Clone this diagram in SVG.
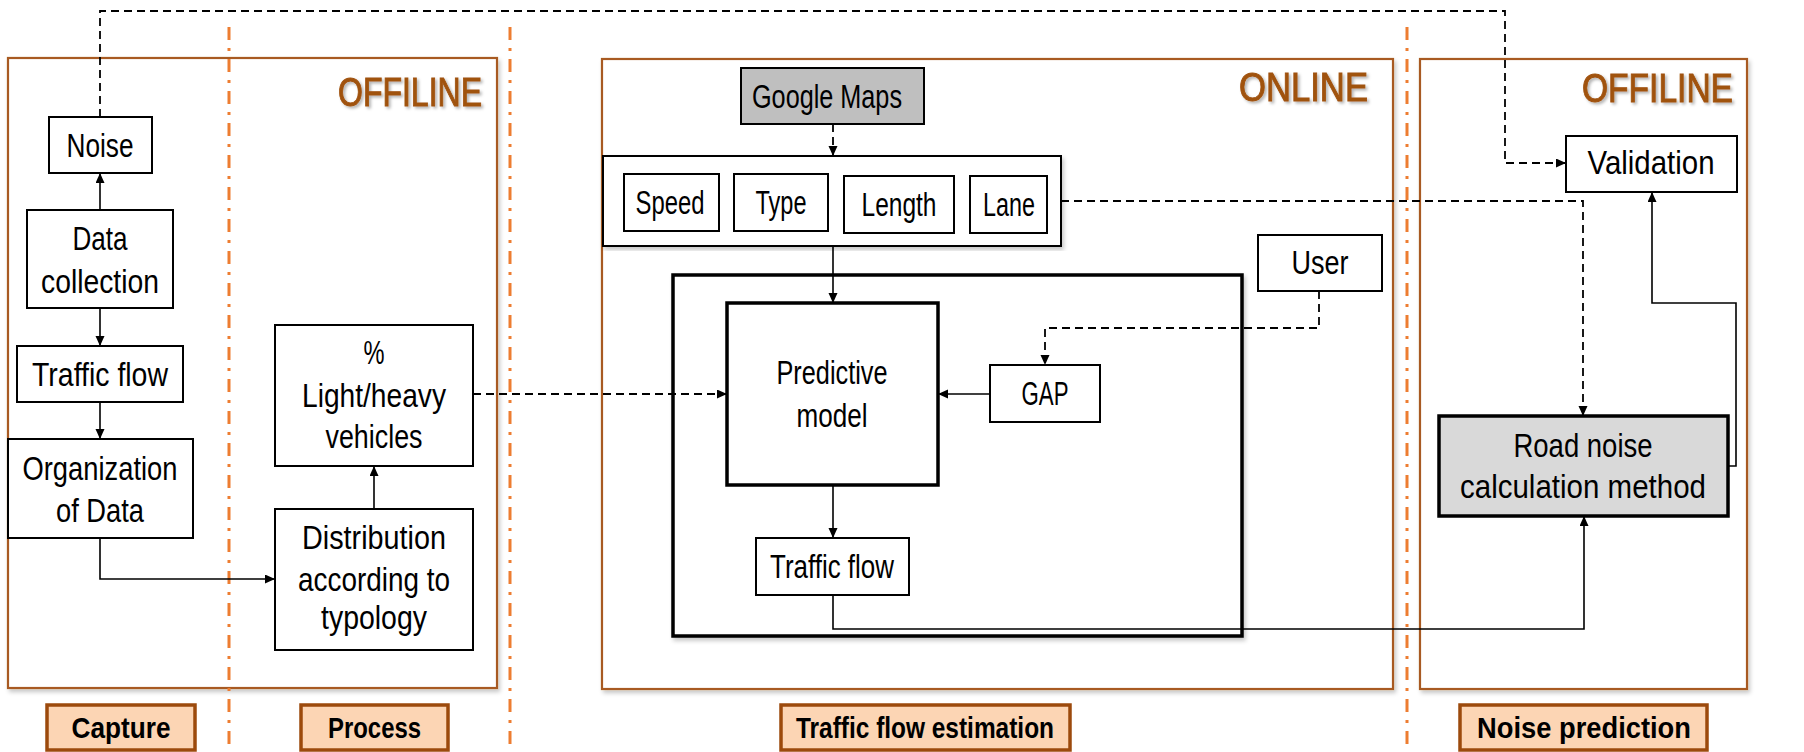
<svg xmlns="http://www.w3.org/2000/svg" width="1804" height="752" viewBox="0 0 1804 752">
<defs>
<marker id="ah" markerUnits="userSpaceOnUse" markerWidth="11" markerHeight="10" refX="10" refY="4.5" orient="auto">
<path d="M0,0 L10,4.5 L0,9 z" fill="#000"/>
</marker>
<filter id="sh" x="-5%" y="-5%" width="110%" height="110%">
<feDropShadow dx="2" dy="3" stdDeviation="2" flood-color="#000" flood-opacity="0.22"/>
</filter>
<filter id="tsh" x="-10%" y="-20%" width="120%" height="140%">
<feDropShadow dx="2" dy="2" stdDeviation="1.5" flood-color="#000" flood-opacity="0.3"/>
</filter>
<style>
text{font-family:"Liberation Sans",Arial,sans-serif;fill:#000;text-anchor:middle}
.t{font-size:33px}
.b{font-size:30px;font-weight:bold}
.hd{font-size:41px;fill:#A0520F;stroke:#A0520F;stroke-width:1;text-anchor:start}
.frame{fill:#fff;stroke:#A85A20;stroke-width:2.2}
.box{fill:#fff;stroke:#000;stroke-width:2}
.thick{fill:#fff;stroke:#000;stroke-width:3.5}
.lbl{fill:#FCD5B4;stroke:#9C4A0C;stroke-width:3.5}
.sep{stroke:#ED7D31;stroke-width:3;stroke-dasharray:13 8 3 8;fill:none}
.c{fill:none;stroke:#000;stroke-width:1.6}
.d{fill:none;stroke:#000;stroke-width:1.8;stroke-dasharray:8 5}
</style>
</defs>
<rect width="1804" height="752" fill="#fff"/>

<g id="frames">
<rect class="frame" x="8" y="58" width="489" height="630" filter="url(#sh)"/>
<rect class="frame" x="602" y="59" width="791" height="630" filter="url(#sh)"/>
<rect class="frame" x="1420" y="59" width="327" height="630" filter="url(#sh)"/>
</g>

<g id="separators">
<line class="sep" x1="229" y1="27" x2="229" y2="745"/>
<line class="sep" x1="510" y1="27" x2="510" y2="745"/>
<line class="sep" x1="1407" y1="27" x2="1407" y2="745"/>
</g>

<g id="headers" filter="url(#tsh)">
<text class="hd" x="338" y="106" textLength="144" lengthAdjust="spacingAndGlyphs">OFFILINE</text>
<text class="hd" x="1239" y="101" textLength="129" lengthAdjust="spacingAndGlyphs">ONLINE</text>
<text class="hd" x="1582" y="102" textLength="151" lengthAdjust="spacingAndGlyphs">OFFILINE</text>
</g>

<g id="group-attrs">
<rect class="box" x="603" y="156" width="458" height="90" filter="url(#sh)"/>
</g>
<g id="model-area">
<rect class="thick" x="673" y="275" width="569" height="361" filter="url(#sh)"/>
</g>

<g id="connectors">
<path class="d" d="M100,117 V11 H1505 V163 H1566" marker-end="url(#ah)"/>
<path class="c" d="M100,210 V173" marker-end="url(#ah)"/>
<path class="c" d="M100,308 V346" marker-end="url(#ah)"/>
<path class="c" d="M100,402 V439" marker-end="url(#ah)"/>
<path class="c" d="M100,538 V579 H275" marker-end="url(#ah)"/>
<path class="c" d="M374,509 V466" marker-end="url(#ah)"/>
<path class="d" d="M473,394 H727" marker-end="url(#ah)"/>
<path class="d" d="M833,124 V156" marker-end="url(#ah)"/>
<path class="c" d="M833,246 V303" marker-end="url(#ah)"/>
<path class="c" d="M990,394 H938" marker-end="url(#ah)"/>
<path class="d" d="M1319,291 V328 H1045 V365" marker-end="url(#ah)"/>
<path class="c" d="M833,485 V538" marker-end="url(#ah)"/>
<path class="c" d="M833,595 V629 H1584 V516" marker-end="url(#ah)"/>
<path class="d" d="M1061,201 H1583 V416" marker-end="url(#ah)"/>
<path class="c" d="M1728,466 H1736 V303 H1652 V192" marker-end="url(#ah)"/>
</g>

<g id="noise">
<rect class="box" x="49" y="117" width="103" height="56"/>
<text class="t" x="100" y="157" textLength="67" lengthAdjust="spacingAndGlyphs">Noise</text>
</g>
<g id="data-collection">
<rect class="box" x="27" y="210" width="146" height="98"/>
<text class="t" x="100" y="250" textLength="55" lengthAdjust="spacingAndGlyphs">Data</text>
<text class="t" x="100" y="293" textLength="118" lengthAdjust="spacingAndGlyphs">collection</text>
</g>
<g id="traffic-flow-capture">
<rect class="box" x="17" y="346" width="166" height="56"/>
<text class="t" x="100" y="386" textLength="136" lengthAdjust="spacingAndGlyphs">Traffic flow</text>
</g>
<g id="organization">
<rect class="box" x="8" y="439" width="185" height="99"/>
<text class="t" x="100" y="480" textLength="155" lengthAdjust="spacingAndGlyphs">Organization</text>
<text class="t" x="100" y="522" textLength="88" lengthAdjust="spacingAndGlyphs">of Data</text>
</g>
<g id="light-heavy">
<rect class="box" x="275" y="325" width="198" height="141"/>
<text class="t" x="374" y="364" textLength="21" lengthAdjust="spacingAndGlyphs">%</text>
<text class="t" x="374" y="407" textLength="144" lengthAdjust="spacingAndGlyphs">Light/heavy</text>
<text class="t" x="374" y="448" textLength="97" lengthAdjust="spacingAndGlyphs">vehicles</text>
</g>
<g id="distribution">
<rect class="box" x="275" y="509" width="198" height="141"/>
<text class="t" x="374" y="549" textLength="144" lengthAdjust="spacingAndGlyphs">Distribution</text>
<text class="t" x="374" y="591" textLength="152" lengthAdjust="spacingAndGlyphs">according to</text>
<text class="t" x="374" y="629" textLength="106" lengthAdjust="spacingAndGlyphs">typology</text>
</g>
<g id="google-maps">
<rect class="box" x="741" y="68" width="183" height="56" style="fill:#BFBFBF"/>
<text class="t" x="827" y="108" textLength="150" lengthAdjust="spacingAndGlyphs">Google Maps</text>
</g>
<g id="speed">
<rect class="box" x="624" y="174" width="95" height="57"/>
<text class="t" x="670" y="214" textLength="69" lengthAdjust="spacingAndGlyphs">Speed</text>
</g>
<g id="type">
<rect class="box" x="734" y="174" width="94" height="57"/>
<text class="t" x="781" y="214" textLength="51" lengthAdjust="spacingAndGlyphs">Type</text>
</g>
<g id="length">
<rect class="box" x="844" y="176" width="110" height="57"/>
<text class="t" x="899" y="216" textLength="75" lengthAdjust="spacingAndGlyphs">Length</text>
</g>
<g id="lane">
<rect class="box" x="970" y="176" width="77" height="57"/>
<text class="t" x="1009" y="216" textLength="52" lengthAdjust="spacingAndGlyphs">Lane</text>
</g>
<g id="user">
<rect class="box" x="1258" y="235" width="124" height="56"/>
<text class="t" x="1320" y="274" textLength="57" lengthAdjust="spacingAndGlyphs">User</text>
</g>
<g id="predictive-model">
<rect class="thick" x="727" y="303" width="211" height="182"/>
<text class="t" x="832" y="384" textLength="111" lengthAdjust="spacingAndGlyphs">Predictive</text>
<text class="t" x="832" y="427" textLength="71" lengthAdjust="spacingAndGlyphs">model</text>
</g>
<g id="gap">
<rect class="box" x="990" y="365" width="110" height="57"/>
<text class="t" x="1045" y="405" textLength="47" lengthAdjust="spacingAndGlyphs">GAP</text>
</g>
<g id="traffic-flow-estimated">
<rect class="box" x="756" y="538" width="153" height="57"/>
<text class="t" x="832" y="578" textLength="124" lengthAdjust="spacingAndGlyphs">Traffic flow</text>
</g>
<g id="validation">
<rect class="box" x="1566" y="136" width="171" height="56"/>
<text class="t" x="1651" y="174" textLength="127" lengthAdjust="spacingAndGlyphs">Validation</text>
</g>
<g id="road-noise">
<rect class="thick" x="1439" y="416" width="289" height="100" style="fill:#D9D9D9"/>
<text class="t" x="1583" y="457" textLength="139" lengthAdjust="spacingAndGlyphs">Road noise</text>
<text class="t" x="1583" y="498" textLength="246" lengthAdjust="spacingAndGlyphs">calculation method</text>
</g>

<g id="label-capture">
<rect class="lbl" x="47" y="705" width="148" height="45"/>
<text class="b" x="121" y="738" textLength="99" lengthAdjust="spacingAndGlyphs">Capture</text>
</g>
<g id="label-process">
<rect class="lbl" x="301" y="705" width="147" height="45"/>
<text class="b" x="374.5" y="738" textLength="93" lengthAdjust="spacingAndGlyphs">Process</text>
</g>
<g id="label-traffic">
<rect class="lbl" x="781" y="705" width="289" height="45"/>
<text class="b" x="925" y="738" textLength="258" lengthAdjust="spacingAndGlyphs">Traffic flow estimation</text>
</g>
<g id="label-noise">
<rect class="lbl" x="1460" y="705" width="247" height="45"/>
<text class="b" x="1584" y="738" textLength="214" lengthAdjust="spacingAndGlyphs">Noise prediction</text>
</g>
</svg>
